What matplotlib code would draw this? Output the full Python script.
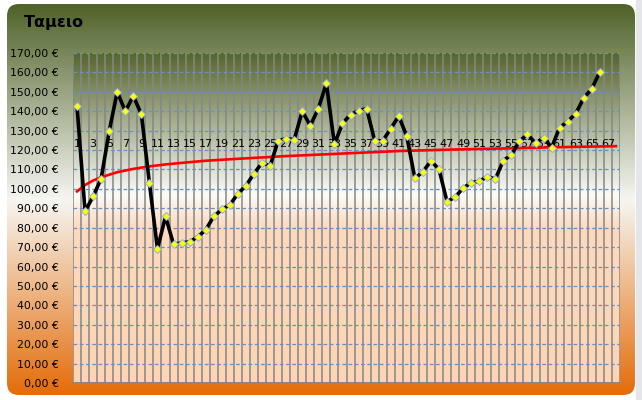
import numpy as np
import matplotlib
matplotlib.use("Agg")
import matplotlib.pyplot as plt
from matplotlib.patches import FancyBboxPatch, Rectangle
from matplotlib.colors import to_rgb
from matplotlib.ticker import FuncFormatter

# Données
titre = "Ταμειο"
caisse = [142.5, 88.4, 96.1, 105.3, 129.7, 150.0, 140.0, 147.8, 138.5, 103.0,
          69.1, 85.8, 71.4, 72.2, 72.7, 75.3, 78.9, 85.8, 89.4, 91.8,
          97.5, 101.7, 107.8, 113.5, 111.8, 124.7, 125.9, 125.4, 140.0, 132.6,
          141.4, 154.3, 123.0, 133.7, 138.3, 140.2, 141.4, 124.9, 124.7, 131.1,
          137.5, 127.0, 105.4, 108.9, 114.4, 110.1, 93.4, 95.8, 100.4, 103.2,
          103.9, 106.3, 105.1, 114.6, 117.5, 124.5, 128.2, 123.5, 126.4, 121.3,
          131.6, 134.7, 138.8, 146.9, 151.6, 160.3]
# courbe de tendance (rouge), relevée en quelques points
tendance_x = [1, 2, 3, 4, 6, 8, 10, 12, 14, 17, 21, 27, 34, 41, 48, 55, 61, 68]
tendance_y = [98.7, 102.0, 104.3, 106.0, 108.6, 110.3, 111.6, 112.6, 113.4, 114.5,
              115.5, 116.9, 118.2, 119.5, 120.3, 120.9, 121.5, 122.0]
n_categories = 68
etiquettes_x = list(range(1, 68, 2))
y_ticks = list(range(0, 171, 10))


def degrade(stops, n=400):
    pos = [p for p, c in stops]
    cols = np.array([to_rgb(c) for p, c in stops])
    t = np.linspace(0, 1, n)
    img = np.stack([np.interp(t, pos, cols[:, k]) for k in range(3)], axis=1)
    return np.repeat(img[:, None, :], 2, axis=1)


W, H = 642, 400
fig = plt.figure(figsize=(W / 100, H / 100), dpi=100)
fig.patch.set_facecolor("white")

# fond de la zone de graphique
bg = fig.add_axes([0, 0, 1, 1])
bg.axis("off")
bg.add_patch(Rectangle((636, 0), 6, H, color="#e4e6ea", zorder=0))
cadre = FancyBboxPatch((7, 4), 628, 391, boxstyle="round,pad=0,rounding_size=12",
                       facecolor="none", edgecolor="none")
bg.add_patch(cadre)
im = bg.imshow(degrade([(0, "#4f6228"), (0.5, "#f6f6f2"), (1.0, "#e46c0a")]),
               extent=[7, 635, 395, 4], aspect="auto", zorder=1)
im.set_clip_path(cadre)
bg.set_xlim(0, W)
bg.set_ylim(H, 0)
bg.text(24, 22, titre, fontsize=11.5, fontweight="bold", va="center", ha="left",
        color="black", zorder=3)

# zone de traçage
ax = fig.add_axes([73 / W, (H - 383) / H, 547 / W, 330 / H])
ax.set_facecolor("none")
ax.imshow(degrade([(0, "#55662d"), (0.43, "#fbfbf8"), (0.53, "#fdd9bd"), (1.0, "#fdd5b5")]),
          extent=[0.5, n_categories + 0.5, 0, 170], origin="upper", aspect="auto", zorder=0)
ax.set_xlim(0.5, n_categories + 0.5)
ax.set_ylim(0, 170)
for s in ax.spines.values():
    s.set_visible(False)

ax.vlines(np.arange(0.5, n_categories + 1), 0, 170, color="#868686", lw=1.1, zorder=1)
ax.hlines(y_ticks[1:], 0.5, n_categories + 0.5, color="#6b8fc4", lw=0.9,
          linestyles=(0, (3, 2)), zorder=1)
ax.hlines(0, 0.5, n_categories + 0.5, color="#808080", lw=1.3, zorder=1)

for i in etiquettes_x:
    ax.text(i, 120.3, str(i), ha="center", va="bottom", fontsize=8, zorder=2)

ax.plot(tendance_x, tendance_y, color="red", lw=1.9, zorder=3)
x = np.arange(1, len(caisse) + 1)
ax.plot(x, caisse, color="black", lw=2.6, marker="D", markersize=4.5,
        markerfacecolor="#ffff00", markeredgecolor="#8fb0d8", markeredgewidth=0.7,
        zorder=4)

ax.set_xticks([])
ax.set_yticks(y_ticks)
ax.yaxis.set_major_formatter(FuncFormatter(lambda v, p: f"{v:.2f}".replace(".", ",") + " €"))
ax.tick_params(axis="y", length=0, pad=10, labelsize=7.8)

fig.savefig("out.png", dpi=100)
